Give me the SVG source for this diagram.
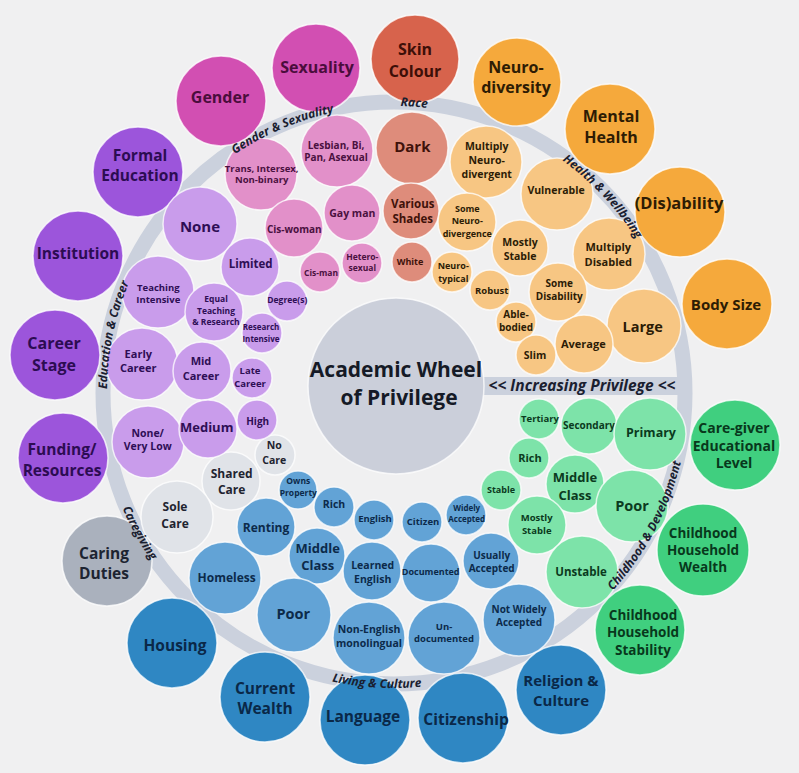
<svg xmlns="http://www.w3.org/2000/svg" width="799" height="773" viewBox="0 0 799 773">
<style>
text{font-family:"Open Sans","Noto Sans","Liberation Sans",sans-serif;font-weight:700;text-anchor:middle}
circle{stroke:#ffffff;stroke-width:1.5;stroke-opacity:.75}
circle.band{fill:none;stroke:#cbd1dd;stroke-width:15;stroke-opacity:1}
.bar{fill:#cbd1dd}
.o16{font-size:16px}.o15{font-size:15.5px}
.mag{fill:#d24fb2}.tmag{fill:#4a0d3c}
.skin{fill:#d7634c}.tskin{fill:#3d0f08}
.org{fill:#f5a93c}.torg{fill:#2e1c04}
.grn{fill:#40cf7f}.tgrn{fill:#08381c}
.blu{fill:#2f87c3}.tblu{fill:#0a2848}
.gry{fill:#aab1bd}.tgry{fill:#1d2431}
.pur{fill:#9c55db}.tpur{fill:#2c0c52}
.pink{fill:#e290c9}.tpink{fill:#4a1140}
.race{fill:#de8c7b}.trace{fill:#3f120a}
.lorg{fill:#f7c683}.tlorg{fill:#2c1c06}
.lgrn{fill:#7de3a9}.tlgrn{fill:#0b3a20}
.lblu{fill:#62a3d6}.tlblu{fill:#0c2a4a}
.lgry{fill:#e0e3e8}.tlgry{fill:#1f2430}
.lpur{fill:#c99ceb}.tlpur{fill:#2e0e55}
.ctr{fill:#cbcfda}.tctr{fill:#151a26}
.rl{font-size:12px;font-style:italic;fill:#1a2030}
.ip{font-size:15.5px}
</style>
<defs>
<path id="p-race" d="M205.7,176.4 A287,287 0 0 1 610.6,204.7"/>
<path id="p-gs" d="M128.1,285.0 A287,287 0 0 1 502.0,127.1"/>
<path id="p-hw" d="M402.5,106.1 A287,287 0 0 1 680.9,401.5"/>
<path id="p-ec" d="M154.1,550.6 A287,287 0 0 1 236.4,153.1"/>
<path id="p-cd" d="M481.2,674.8 A295,295 0 0 0 675.8,305.8"/>
<path id="p-lc" d="M173.4,588.9 A295,295 0 0 0 589.9,613.6"/>
<path id="p-cg" d="M110.7,310.7 A295,295 0 0 0 311.7,676.3"/>
</defs>
<rect width="799" height="773" fill="#f0f0f1"/>
<g id="connectors">
<circle class="band" cx="394" cy="393" r="291"/>
<rect class="bar" x="470" y="377" width="212" height="18"/>
</g>
<g id="center"><circle class="ctr" cx="396" cy="386" r="88"/><text class="tctr" font-size="21" x="396" y="377">Academic Wheel</text><text class="tctr" font-size="21" x="399" y="405">of Privilege</text></g>

<g id="n-gender"><circle class="mag" cx="221" cy="101" r="45"/><text class="tmag o16" x="220" y="103">Gender</text></g>
<g id="n-sexuality"><circle class="mag" cx="316" cy="68" r="44"/><text class="tmag o16" x="317" y="72.5">Sexuality</text></g>
<g id="n-skin"><circle class="skin" cx="415" cy="59" r="44"/><text class="tskin o16" x="415" y="55">Skin</text><text class="tskin o16" x="415" y="77">Colour</text></g>
<g id="n-neuro"><circle class="org" cx="517" cy="82" r="44"/><text class="torg o16" x="516" y="72.5">Neuro-</text><text class="torg o16" x="516" y="93">diversity</text></g>
<g id="n-mental"><circle class="org" cx="610" cy="129" r="45"/><text class="torg o16" x="611" y="121.5">Mental</text><text class="torg o16" x="611" y="142.5">Health</text></g>
<g id="n-disability"><circle class="org" cx="680" cy="212" r="45"/><text class="torg" font-size="16.5" x="679" y="209">(Dis)ability</text></g>
<g id="n-bodysize"><circle class="org" cx="727" cy="304" r="45"/><text class="torg" font-size="15" x="726" y="310">Body Size</text></g>
<g id="n-caregiver"><circle class="grn" cx="735" cy="445" r="45"/><text class="tgrn" font-size="14" x="734" y="433">Care-giver</text><text class="tgrn" font-size="14" x="734" y="451">Educational</text><text class="tgrn" font-size="14" x="734" y="468">Level</text></g>
<g id="n-chwealth"><circle class="grn" cx="703" cy="550" r="46"/><text class="tgrn" font-size="13.5" x="703" y="538">Childhood</text><text class="tgrn" font-size="13.5" x="703" y="555">Household</text><text class="tgrn" font-size="13.5" x="703" y="572">Wealth</text></g>
<g id="n-chstab"><circle class="grn" cx="640" cy="630" r="45"/><text class="tgrn" font-size="13.5" x="643" y="620">Childhood</text><text class="tgrn" font-size="13.5" x="643" y="637">Household</text><text class="tgrn" font-size="13.5" x="643" y="655">Stability</text></g>
<g id="n-religion"><circle class="blu" cx="561" cy="690" r="45"/><text class="tblu" font-size="15" x="561" y="685.5">Religion &amp;</text><text class="tblu" font-size="15" x="561" y="705.5">Culture</text></g>
<g id="n-citizenship"><circle class="blu" cx="463" cy="718" r="45"/><text class="tblu o15" x="466" y="724.5">Citizenship</text></g>
<g id="n-language"><circle class="blu" cx="365" cy="720" r="45"/><text class="tblu o15" x="363" y="721.5">Language</text></g>
<g id="n-wealth"><circle class="blu" cx="265" cy="697" r="45"/><text class="tblu o15" x="265" y="693.5">Current</text><text class="tblu o15" x="265" y="713.5">Wealth</text></g>
<g id="n-housing"><circle class="blu" cx="172" cy="643" r="45"/><text class="tblu o15" x="175" y="650.5">Housing</text></g>
<g id="n-caring"><circle class="gry" cx="107" cy="561" r="45"/><text class="tgry o15" x="104" y="558.5">Caring</text><text class="tgry o15" x="104" y="578.5">Duties</text></g>
<g id="n-funding"><circle class="pur" cx="63" cy="458" r="45"/><text class="tpur o15" x="62" y="454.5">Funding/</text><text class="tpur o15" x="62" y="475.5">Resources</text></g>
<g id="n-career"><circle class="pur" cx="55" cy="355" r="45"/><text class="tpur o16" x="54" y="349">Career</text><text class="tpur o16" x="54" y="371">Stage</text></g>
<g id="n-institution"><circle class="pur" cx="78" cy="256" r="45"/><text class="tpur o15" x="78" y="259">Institution</text></g>
<g id="n-formal"><circle class="pur" cx="138" cy="172" r="45"/><text class="tpur o15" x="140" y="160.5">Formal</text><text class="tpur o15" x="140" y="180.5">Education</text></g>

<g id="n-trans"><circle class="pink" cx="261" cy="174" r="36"/><text class="tpink" font-size="9.5" x="261.7" y="171.6">Trans, Intersex,</text><text class="tpink" font-size="9.5" x="261.7" y="183.3">Non-binary</text></g>
<g id="n-lesbian"><circle class="pink" cx="337" cy="151" r="36"/><text class="tpink" font-size="10" x="336" y="148.5">Lesbian, Bi,</text><text class="tpink" font-size="10" x="336" y="161">Pan, Asexual</text></g>
<g id="n-gayman"><circle class="pink" cx="352" cy="213" r="28"/><text class="tpink" font-size="10.5" x="352.3" y="217">Gay man</text></g>
<g id="n-ciswoman"><circle class="pink" cx="294" cy="228" r="29"/><text class="tpink" font-size="10" x="294.3" y="232.8">Cis-woman</text></g>
<g id="n-cisman"><circle class="pink" cx="320" cy="272" r="20"/><text class="tpink" font-size="8.5" x="321" y="276.3">Cis-man</text></g>
<g id="n-hetero"><circle class="pink" cx="362" cy="263" r="20"/><text class="tpink" font-size="8.5" x="362.3" y="259.7">Hetero-</text><text class="tpink" font-size="8.5" x="362.3" y="271.3">sexual</text></g>

<g id="n-dark"><circle class="race" cx="412" cy="148" r="36"/><text class="trace" font-size="15" x="412.3" y="152">Dark</text></g>
<g id="n-various"><circle class="race" cx="411" cy="211" r="28"/><text class="trace" font-size="11.5" x="412.7" y="208.3">Various</text><text class="trace" font-size="11.5" x="412.7" y="223">Shades</text></g>
<g id="n-white"><circle class="race" cx="412" cy="262" r="20"/><text class="trace" font-size="9" x="410" y="264.8">White</text></g>

<g id="n-multneuro"><circle class="lorg" cx="486" cy="162" r="36"/><text class="tlorg" font-size="10.5" x="486.7" y="150.4">Multiply</text><text class="tlorg" font-size="10.5" x="486.7" y="164.4">Neuro-</text><text class="tlorg" font-size="10.5" x="486.7" y="178">divergent</text></g>
<g id="n-vulnerable"><circle class="lorg" cx="557" cy="194" r="36"/><text class="tlorg" font-size="10.5" x="556" y="194.4">Vulnerable</text></g>
<g id="n-someneuro"><circle class="lorg" cx="467" cy="222" r="29"/><text class="tlorg" font-size="9" x="467.3" y="211.5">Some</text><text class="tlorg" font-size="9" x="467.3" y="223.9">Neuro-</text><text class="tlorg" font-size="9" x="467.3" y="236.5">divergence</text></g>
<g id="n-mostlystable"><circle class="lorg" cx="520" cy="248" r="28"/><text class="tlorg" font-size="10.5" x="520" y="246.4">Mostly</text><text class="tlorg" font-size="10.5" x="520" y="260.4">Stable</text></g>
<g id="n-multdis"><circle class="lorg" cx="609" cy="254" r="36"/><text class="tlorg" font-size="11" x="608.3" y="250.6">Multiply</text><text class="tlorg" font-size="11" x="608.3" y="265.6">Disabled</text></g>
<g id="n-neurotyp"><circle class="lorg" cx="452" cy="272" r="20"/><text class="tlorg" font-size="9" x="453.3" y="269.2">Neuro-</text><text class="tlorg" font-size="9" x="453.3" y="281.5">typical</text></g>
<g id="n-robust"><circle class="lorg" cx="490" cy="290" r="20"/><text class="tlorg" font-size="9.5" x="491.7" y="294">Robust</text></g>
<g id="n-somedis"><circle class="lorg" cx="558" cy="292" r="29"/><text class="tlorg" font-size="10" x="559.3" y="286.8">Some</text><text class="tlorg" font-size="10" x="559.3" y="300.2">Disability</text></g>
<g id="n-able"><circle class="lorg" cx="516" cy="322" r="20"/><text class="tlorg" font-size="10" x="516" y="317.5">Able-</text><text class="tlorg" font-size="10" x="516" y="330.8">bodied</text></g>
<g id="n-large"><circle class="lorg" cx="644" cy="326" r="37"/><text class="tlorg" font-size="14.5" x="642.7" y="331.8">Large</text></g>
<g id="n-average"><circle class="lorg" cx="584" cy="344" r="29"/><text class="tlorg" font-size="11" x="583.3" y="347.9">Average</text></g>
<g id="n-slim"><circle class="lorg" cx="536" cy="355" r="20"/><text class="tlorg" font-size="10.5" x="535" y="359.4">Slim</text></g>

<g id="n-tertiary"><circle class="lgrn" cx="539" cy="419" r="20"/><text class="tlgrn" font-size="9.5" x="540" y="421.6">Tertiary</text></g>
<g id="n-secondary"><circle class="lgrn" cx="589" cy="426" r="28"/><text class="tlgrn" font-size="10" x="589" y="428.5">Secondary</text></g>
<g id="n-primary"><circle class="lgrn" cx="650" cy="434" r="36"/><text class="tlgrn" font-size="12.5" x="651" y="437">Primary</text></g>
<g id="n-grich"><circle class="lgrn" cx="529" cy="458" r="20"/><text class="tlgrn" font-size="11" x="530" y="461.5">Rich</text></g>
<g id="n-gmiddle"><circle class="lgrn" cx="575" cy="484" r="29"/><text class="tlgrn" font-size="13" x="575" y="482.2">Middle</text><text class="tlgrn" font-size="13" x="575" y="499.5">Class</text></g>
<g id="n-gstable"><circle class="lgrn" cx="501" cy="490" r="20"/><text class="tlgrn" font-size="9" x="501" y="493.2">Stable</text></g>
<g id="n-gpoor"><circle class="lgrn" cx="632" cy="506" r="36"/><text class="tlgrn" font-size="14.5" x="632" y="511">Poor</text></g>
<g id="n-gmostly"><circle class="lgrn" cx="537" cy="525" r="29"/><text class="tlgrn" font-size="9.5" x="536.7" y="521.4">Mostly</text><text class="tlgrn" font-size="9.5" x="536.7" y="533.7">Stable</text></g>
<g id="n-unstable"><circle class="lgrn" cx="582" cy="572" r="36"/><text class="tlgrn" font-size="11.5" x="581" y="576.3">Unstable</text></g>

<g id="n-owns"><circle class="lblu" cx="298" cy="490" r="19"/><text class="tlblu" font-size="8.5" x="298.3" y="483.7">Owns</text><text class="tlblu" font-size="8.5" x="298.3" y="496.3">Property</text></g>
<g id="n-brich"><circle class="lblu" cx="334" cy="507" r="20"/><text class="tlblu" font-size="10.5" x="334" y="508">Rich</text></g>
<g id="n-english"><circle class="lblu" cx="374" cy="520" r="20"/><text class="tlblu" font-size="9.5" x="375" y="522.3">English</text></g>
<g id="n-citizen"><circle class="lblu" cx="422" cy="522" r="20"/><text class="tlblu" font-size="9.5" x="423" y="525">Citizen</text></g>
<g id="n-widely"><circle class="lblu" cx="466" cy="515" r="20"/><text class="tlblu" font-size="8" x="466.7" y="511.1">Widely</text><text class="tlblu" font-size="8" x="466.7" y="522.1">Accepted</text></g>
<g id="n-renting"><circle class="lblu" cx="266" cy="527" r="29"/><text class="tlblu" font-size="12" x="266" y="531.5">Renting</text></g>
<g id="n-bmiddle"><circle class="lblu" cx="317" cy="556" r="28"/><text class="tlblu" font-size="13" x="317.7" y="552.9">Middle</text><text class="tlblu" font-size="13" x="317.7" y="570.2">Class</text></g>
<g id="n-learned"><circle class="lblu" cx="372" cy="571" r="29"/><text class="tlblu" font-size="10.5" x="372.7" y="568.7">Learned</text><text class="tlblu" font-size="10.5" x="372.7" y="582.7">English</text></g>
<g id="n-documented"><circle class="lblu" cx="431" cy="573" r="29"/><text class="tlblu" font-size="9" x="430.7" y="574.8">Documented</text></g>
<g id="n-usually"><circle class="lblu" cx="491" cy="561" r="28"/><text class="tlblu" font-size="10" x="491.7" y="558.5">Usually</text><text class="tlblu" font-size="10" x="491.7" y="571.8">Accepted</text></g>
<g id="n-homeless"><circle class="lblu" cx="225" cy="578" r="36"/><text class="tlblu" font-size="12" x="226.7" y="581.5">Homeless</text></g>
<g id="n-bpoor"><circle class="lblu" cx="294" cy="615" r="37"/><text class="tlblu" font-size="14.5" x="293.3" y="619.4">Poor</text></g>
<g id="n-nonenglish"><circle class="lblu" cx="369" cy="638" r="36"/><text class="tlblu" font-size="10.5" x="369" y="633">Non-English</text><text class="tlblu" font-size="10.5" x="369" y="647">monolingual</text></g>
<g id="n-undoc"><circle class="lblu" cx="444" cy="638" r="36"/><text class="tlblu" font-size="9.5" x="444" y="630">Un-</text><text class="tlblu" font-size="9.5" x="444" y="642.3">documented</text></g>
<g id="n-notwidely"><circle class="lblu" cx="519" cy="620" r="36"/><text class="tlblu" font-size="10" x="519" y="612.5">Not Widely</text><text class="tlblu" font-size="10" x="519" y="625.8">Accepted</text></g>

<g id="n-nocare"><circle class="lgry" cx="275" cy="455" r="20"/><text class="tlgry" font-size="10.5" x="274.3" y="449.4">No</text><text class="tlgry" font-size="10.5" x="274.3" y="464.4">Care</text></g>
<g id="n-shared"><circle class="lgry" cx="231" cy="481" r="29"/><text class="tlgry" font-size="12" x="231.7" y="477.5">Shared</text><text class="tlgry" font-size="12" x="231.7" y="494.2">Care</text></g>
<g id="n-sole"><circle class="lgry" cx="177" cy="517" r="36"/><text class="tlgry" font-size="12" x="175" y="511">Sole</text><text class="tlgry" font-size="12" x="175" y="528">Care</text></g>

<g id="n-none"><circle class="lpur" cx="200" cy="224" r="37"/><text class="tlpur" font-size="15" x="200" y="232">None</text></g>
<g id="n-limited"><circle class="lpur" cx="250" cy="267" r="29"/><text class="tlpur" font-size="11.5" x="250.7" y="268.4">Limited</text></g>
<g id="n-degree"><circle class="lpur" cx="287" cy="301" r="20"/><text class="tlpur" font-size="8.5" x="287.3" y="303">Degree(s)</text></g>
<g id="n-teaching"><circle class="lpur" cx="158" cy="292" r="36"/><text class="tlpur" font-size="9.5" x="158.3" y="290.6">Teaching</text><text class="tlpur" font-size="9.5" x="158.3" y="302.6">Intensive</text></g>
<g id="n-equal"><circle class="lpur" cx="214" cy="312" r="29"/><text class="tlpur" font-size="8.5" x="216" y="302">Equal</text><text class="tlpur" font-size="8.5" x="216" y="313.7">Teaching</text><text class="tlpur" font-size="8.5" x="216" y="325.3">&amp; Research</text></g>
<g id="n-research"><circle class="lpur" cx="262" cy="333" r="20"/><text class="tlpur" font-size="8" x="261" y="330.1">Research</text><text class="tlpur" font-size="8" x="261" y="341.8">Intensive</text></g>
<g id="n-early"><circle class="lpur" cx="142" cy="364" r="36"/><text class="tlpur" font-size="11" x="138.3" y="357.9">Early</text><text class="tlpur" font-size="11" x="138.3" y="372.2">Career</text></g>
<g id="n-mid"><circle class="lpur" cx="202" cy="371" r="29"/><text class="tlpur" font-size="11" x="201" y="364.9">Mid</text><text class="tlpur" font-size="11" x="201" y="379.9">Career</text></g>
<g id="n-late"><circle class="lpur" cx="252" cy="378" r="20"/><text class="tlpur" font-size="9.5" x="250" y="374.3">Late</text><text class="tlpur" font-size="9.5" x="250" y="387.3">Career</text></g>
<g id="n-nonelow"><circle class="lpur" cx="148" cy="442" r="36"/><text class="tlpur" font-size="10.5" x="147.7" y="437">None/</text><text class="tlpur" font-size="10.5" x="147.7" y="450.4">Very Low</text></g>
<g id="n-medium"><circle class="lpur" cx="208" cy="429" r="29"/><text class="tlpur" font-size="13" x="206.7" y="432.3">Medium</text></g>
<g id="n-high"><circle class="lpur" cx="257" cy="420" r="20"/><text class="tlpur" font-size="10" x="257.7" y="424.5">High</text></g>

<g id="ring-labels">
<text class="rl"><textPath href="#p-race" startOffset="50%">Race</textPath></text>
<text class="rl"><textPath href="#p-gs" startOffset="50%">Gender &amp; Sexuality</textPath></text>
<text class="rl"><textPath href="#p-hw" startOffset="50%">Health &amp; Wellbeing</textPath></text>
<text class="rl"><textPath href="#p-ec" startOffset="50%">Education &amp; Career</textPath></text>
<text class="rl"><textPath href="#p-cd" startOffset="50%">Childhood &amp; Development</textPath></text>
<text class="rl"><textPath href="#p-lc" startOffset="50%">Living &amp; Culture</textPath></text>
<text class="rl"><textPath href="#p-cg" startOffset="50%">Caregiving</textPath></text>
<text class="rl ip" x="582" y="391">&lt;&lt; Increasing Privilege &lt;&lt;</text>
</g>
</svg>
